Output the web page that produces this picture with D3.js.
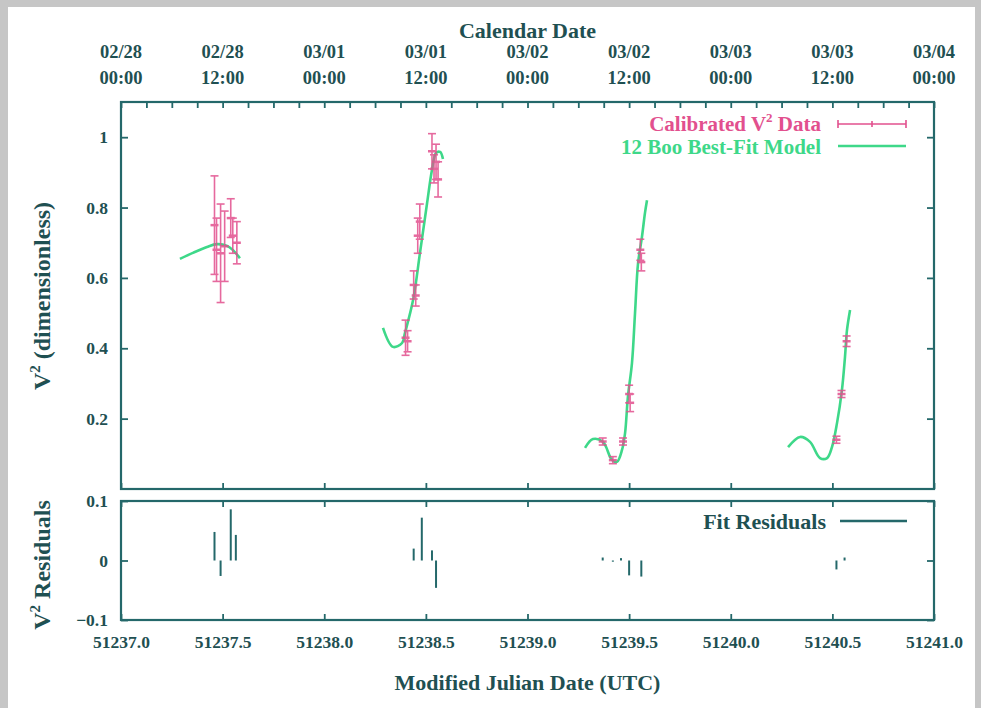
<!DOCTYPE html>
<html>
<head>
<meta charset="utf-8">
<script src="https://cdn.jsdelivr.net/npm/d3@7"></script>
<style>
  body { margin: 0; background: #c6c6c6; }
  text { font-family: "Liberation Serif", "DejaVu Serif", serif; font-weight: bold; }
</style>
</head>
<body>
<div id="chart"></div>
<script>
// calibrated V^2 data: [mjd, v2, error]
let dataMjd = [51237.46, 51237.47, 51237.49, 51237.51, 51237.54, 51237.55, 51237.57,
               51238.40, 51238.41, 51238.44, 51238.45, 51238.46, 51238.47, 51238.53, 51238.54, 51238.55, 51238.56,
               51239.37, 51239.42, 51239.47, 51239.50, 51239.505, 51239.555, 51239.56,
               51240.52, 51240.545, 51240.57]
let dataV2 = [0.75, 0.68, 0.67, 0.69, 0.77, 0.72, 0.70,
              0.43, 0.42, 0.58, 0.55, 0.72, 0.76, 0.96, 0.91, 0.93, 0.88,
              0.135, 0.082, 0.135, 0.27, 0.245, 0.68, 0.645,
              0.14, 0.27, 0.42]
let dataErr = [0.14, 0.09, 0.14, 0.10, 0.055, 0.05, 0.06,
               0.05, 0.03, 0.04, 0.03, 0.05, 0.05, 0.05, 0.04, 0.05, 0.05,
               0.01, 0.01, 0.01, 0.025, 0.025, 0.03, 0.025,
               0.01, 0.01, 0.015]

// best-fit model, one segment per night
let model1 = [[51237.290, 0.654], [51237.354, 0.671], [51237.423, 0.688], [51237.472, 0.696],
              [51237.522, 0.691], [51237.551, 0.679], [51237.585, 0.656]]
let model2 = [[51238.289, 0.458], [51238.338, 0.404], [51238.383, 0.415], [51238.397, 0.443],
              [51238.437, 0.537], [51238.471, 0.671], [51238.506, 0.813], [51238.530, 0.907],
              [51238.550, 0.955], [51238.570, 0.958], [51238.584, 0.938]]
let model3 = [[51239.283, 0.117], [51239.322, 0.142], [51239.371, 0.134], [51239.416, 0.082],
              [51239.440, 0.077], [51239.465, 0.111], [51239.480, 0.159], [51239.494, 0.262],
              [51239.514, 0.358], [51239.529, 0.500], [51239.544, 0.642], [51239.563, 0.716],
              [51239.578, 0.785], [51239.588, 0.821]]
let model4 = [[51240.282, 0.119], [51240.341, 0.148], [51240.390, 0.134], [51240.439, 0.088],
              [51240.474, 0.088], [51240.498, 0.119], [51240.523, 0.188], [51240.547, 0.281],
              [51240.562, 0.375], [51240.572, 0.452], [51240.587, 0.509]]

// fit residuals
let resMjd = [51237.46, 51237.49, 51237.54, 51237.565,
              51238.44, 51238.48, 51238.53, 51238.55,
              51239.37, 51239.42, 51239.46, 51239.50, 51239.56,
              51240.52, 51240.56]
let resVal = [0.048, -0.026, 0.086, 0.043,
              0.02, 0.072, 0.017, -0.046,
              0.005, -0.002, 0.004, -0.025, -0.027,
              -0.015, 0.005]

// tick labels
let mjdTicks = [51237.0, 51237.5, 51238.0, 51238.5, 51239.0, 51239.5, 51240.0, 51240.5, 51241.0]
let calDates = ["02/28", "02/28", "03/01", "03/01", "03/02", "03/02", "03/03", "03/03", "03/04"]
let calTimes = ["00:00", "12:00", "00:00", "12:00", "00:00", "12:00", "00:00", "12:00", "00:00"]
let v2Ticks = [0.2, 0.4, 0.6, 0.8, 1]
let resTicks = [-0.1, 0, 0.1]

let svgWidth = 981
let svgHeight = 708

let frame = { left: 121, right: 934, top: 102, mid: 489, resTop: 501, bottom: 620 }
let axisColor = '#24686a'
let textColor = '#1f5052'
let dataColor = '#e2508e'
let modelColor = '#3ed889'
let tickFont = 17.5
let titleFont = 22

let svg = d3.select('#chart')
    .append('svg')
    .attr('width', svgWidth)
    .attr('height', svgHeight)

// gray photo border + white page
svg.append('rect').attr('width', svgWidth).attr('height', svgHeight).attr('fill', '#c6c6c6')
svg.append('rect').attr('x', 8).attr('y', 7).attr('width', 967).attr('height', 701).attr('fill', '#ffffff')

let xScale = d3.scaleLinear().domain([51237, 51241]).range([frame.left, frame.right])
let yScale = d3.scaleLinear().domain([0, 1.1]).range([frame.mid, frame.top])
let rScale = d3.scaleLinear().domain([-0.1, 0.1]).range([frame.bottom, frame.resTop])

function styleAxis(g) {
    g.select('.domain').remove()
    g.selectAll('line').attr('stroke', axisColor).attr('stroke-width', 1.8)
    g.selectAll('text').attr('fill', textColor).attr('font-size', tickFont)
        .attr('font-family', '"Liberation Serif", serif').attr('font-weight', 'bold')
}

// top panel: y axes
svg.append('g').attr('transform', `translate(${frame.left},0)`)
    .call(d3.axisLeft(yScale).tickValues(v2Ticks).tickSize(-7).tickPadding(13)
        .tickFormat(d => d === 1 ? '1' : d3.format('.1f')(d)))
    .call(styleAxis)
svg.append('g').attr('transform', `translate(${frame.right},0)`)
    .call(d3.axisRight(yScale).tickValues(v2Ticks).tickSize(-7).tickFormat(''))
    .call(styleAxis)

// top panel: calendar axis (every 3 hours)
let calTicks = d3.range(0, 33).map(i => 51237 + i * 0.125)
svg.append('g').attr('transform', `translate(0,${frame.top})`)
    .call(d3.axisBottom(xScale).tickValues(calTicks).tickSize(6).tickFormat(''))
    .call(styleAxis)
svg.append('g').attr('transform', `translate(0,${frame.mid})`)
    .call(d3.axisTop(xScale).tickValues(mjdTicks).tickSize(6).tickFormat(''))
    .call(styleAxis)

let calLabels = svg.append('g')
mjdTicks.forEach((t, i) => {
    calLabels.append('text').attr('x', xScale(t)).attr('y', 58)
        .attr('text-anchor', 'middle').attr('font-size', tickFont + 1).attr('fill', textColor)
        .text(calDates[i])
    calLabels.append('text').attr('x', xScale(t)).attr('y', 84)
        .attr('text-anchor', 'middle').attr('font-size', tickFont + 1).attr('fill', textColor)
        .text(calTimes[i])
})
svg.append('text').attr('x', (frame.left + frame.right) / 2).attr('y', 38)
    .attr('text-anchor', 'middle').attr('font-size', titleFont).attr('fill', textColor)
    .text('Calendar Date')

// residual panel axes
svg.append('g').attr('transform', `translate(${frame.left},0)`)
    .call(d3.axisLeft(rScale).tickValues(resTicks).tickSize(-7).tickPadding(13)
        .tickFormat(d => d === 0 ? '0' : d3.format('.1f')(d)))
    .call(styleAxis)
svg.append('g').attr('transform', `translate(${frame.right},0)`)
    .call(d3.axisRight(rScale).tickValues(resTicks).tickSize(-7).tickFormat(''))
    .call(styleAxis)
svg.append('g').attr('transform', `translate(0,${frame.resTop})`)
    .call(d3.axisBottom(xScale).tickValues(mjdTicks).tickSize(6).tickFormat(''))
    .call(styleAxis)
svg.append('g').attr('transform', `translate(0,${frame.bottom})`)
    .call(d3.axisBottom(xScale).tickValues(mjdTicks).tickSize(-6).tickPadding(16)
        .tickFormat(d3.format('.1f')))
    .call(styleAxis)

// frames
svg.append('rect').attr('x', frame.left).attr('y', frame.top)
    .attr('width', frame.right - frame.left).attr('height', frame.mid - frame.top)
    .attr('fill', 'none').attr('stroke', axisColor).attr('stroke-width', 2.2)
svg.append('rect').attr('x', frame.left).attr('y', frame.resTop)
    .attr('width', frame.right - frame.left).attr('height', frame.bottom - frame.resTop)
    .attr('fill', 'none').attr('stroke', axisColor).attr('stroke-width', 2.2)

// axis titles
svg.append('text').attr('x', (frame.left + frame.right) / 2).attr('y', 690)
    .attr('text-anchor', 'middle').attr('font-size', titleFont).attr('fill', textColor)
    .text('Modified Julian Date (UTC)')

function v2Label(x, y, rest) {
    let t = svg.append('text').attr('transform', `translate(${x},${y}) rotate(-90)`)
        .attr('text-anchor', 'middle').attr('font-size', 24).attr('fill', textColor)
    t.append('tspan').text('V')
    t.append('tspan').attr('dy', -10).attr('font-size', 15).text('2')
    t.append('tspan').attr('dy', 10).text(rest)
}
v2Label(50, 296, ' (dimensionless)')
v2Label(50, 565, ' Residuals')

// model curves
let line = d3.line()
    .x(d => xScale(d[0]))
    .y(d => yScale(d[1]))
    .curve(d3.curveCatmullRom)
svg.selectAll('path.model')
    .data([model1, model2, model3, model4])
    .join('path')
    .attr('class', 'model')
    .attr('d', line)
    .attr('fill', 'none')
    .attr('stroke', modelColor)
    .attr('stroke-width', 2.6)

// error bars
let pts = dataMjd.map((m, i) => ({ m: m, v: dataV2[i], e: dataErr[i] }))
let bars = svg.append('g').attr('stroke', dataColor).attr('stroke-width', 1.6).attr('opacity', 0.85)
pts.forEach(d => {
    let x = xScale(d.m)
    bars.append('line').attr('x1', x).attr('x2', x).attr('y1', yScale(d.v - d.e)).attr('y2', yScale(d.v + d.e))
    ;[d.v - d.e, d.v + d.e].forEach(v => {
        bars.append('line').attr('x1', x - 4).attr('x2', x + 4).attr('y1', yScale(v)).attr('y2', yScale(v))
    })
    bars.append('line').attr('x1', x - 4).attr('x2', x + 4).attr('y1', yScale(d.v)).attr('y2', yScale(d.v))
        .attr('stroke-width', 2.5)
})

// residual impulses
svg.append('g').selectAll('line')
    .data(resMjd)
    .join('line')
    .attr('x1', d => xScale(d))
    .attr('x2', d => xScale(d))
    .attr('y1', rScale(0))
    .attr('y2', (d, i) => rScale(resVal[i]))
    .attr('stroke', axisColor)
    .attr('stroke-width', 2)

// legends
svg.append('text').attr('x', 821).attr('y', 131).attr('text-anchor', 'end')
    .attr('font-size', 21).attr('fill', dataColor)
    .call(t => {
        t.append('tspan').text('Calibrated V')
        t.append('tspan').attr('dy', -9).attr('font-size', 13).text('2')
        t.append('tspan').attr('dy', 9).text(' Data')
    })
let lg = svg.append('g').attr('stroke', dataColor).attr('stroke-width', 1.6)
lg.append('line').attr('x1', 838).attr('x2', 906).attr('y1', 124).attr('y2', 124)
lg.append('line').attr('x1', 838).attr('x2', 838).attr('y1', 120).attr('y2', 128)
lg.append('line').attr('x1', 906).attr('x2', 906).attr('y1', 120).attr('y2', 128)
lg.append('line').attr('x1', 872).attr('x2', 872).attr('y1', 121).attr('y2', 127)

svg.append('text').attr('x', 821).attr('y', 154).attr('text-anchor', 'end')
    .attr('font-size', 21).attr('fill', modelColor).text('12 Boo Best-Fit Model')
svg.append('line').attr('x1', 838).attr('x2', 906).attr('y1', 146).attr('y2', 146)
    .attr('stroke', modelColor).attr('stroke-width', 2.4)

svg.append('text').attr('x', 826).attr('y', 529).attr('text-anchor', 'end')
    .attr('font-size', titleFont).attr('fill', textColor).text('Fit Residuals')
svg.append('line').attr('x1', 840).attr('x2', 907).attr('y1', 521).attr('y2', 521)
    .attr('stroke', axisColor).attr('stroke-width', 2.4)
</script>
</body>
</html>
